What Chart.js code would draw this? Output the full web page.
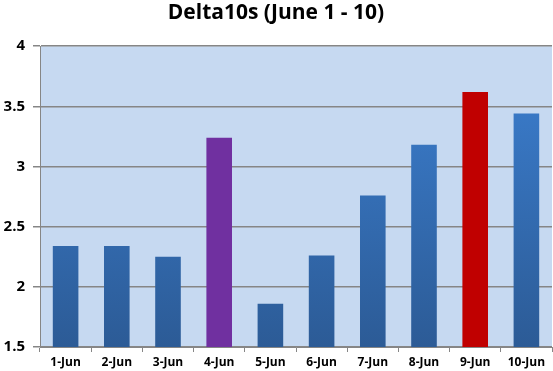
<!DOCTYPE html>
<html>
<head>
<meta charset="utf-8">
<title>Delta10s (June 1 - 10)</title>
<script src="https://cdn.jsdelivr.net/npm/chart.js@4/dist/chart.umd.min.js"></script>
<style>
  html, body { margin: 0; padding: 0; background: #fff; }
  #wrap { width: 553px; height: 371px; }
</style>
</head>
<body>
<div id="wrap"><canvas id="deltaChart"></canvas></div>
<script>
// Chart data
const days = ['1-Jun', '2-Jun', '3-Jun', '4-Jun', '5-Jun', '6-Jun', '7-Jun', '8-Jun', '9-Jun', '10-Jun'];
const delta10s = [2.34, 2.34, 2.25, 3.24, 1.86, 2.26, 2.76, 3.18, 3.62, 3.44];
const yTicks = [1.5, 2, 2.5, 3, 3.5, 4];

// special bars (purple on 4-Jun, red on 9-Jun)
const highlight = { '4-Jun': '#7030A0', '9-Jun': '#C00000' };

// paint plot area background
const plotBg = {
  id: 'plotBg',
  beforeDraw(chart) {
    const { ctx, chartArea: a } = chart;
    ctx.save();
    ctx.fillStyle = '#C6D9F1';
    ctx.fillRect(a.left, a.top, a.right - a.left, a.bottom - a.top);
    ctx.restore();
  }
};

function barFill(context) {
  const chart = context.chart;
  const day = days[context.dataIndex];
  if (highlight[day]) return highlight[day];
  const a = chart.chartArea;
  if (!a) return '#3A78C8';
  const el = context.element;
  const top = el && el.y != null ? el.y : a.top;
  const g = chart.ctx.createLinearGradient(0, top, 0, a.bottom);
  g.addColorStop(0, '#3C80D2');
  g.addColorStop(1, '#2C5B96');
  return g;
}

new Chart(document.getElementById('deltaChart'), {
  type: 'bar',
  data: {
    labels: days,
    datasets: [{
      label: 'Delta10s',
      data: delta10s,
      backgroundColor: barFill,
      borderWidth: 0,
      barPercentage: 0.5,
      categoryPercentage: 1
    }]
  },
  options: {
    responsive: true,
    maintainAspectRatio: false,
    animation: false,
    layout: { padding: { right: 1 } },
    plugins: {
      legend: { display: false },
      tooltip: { enabled: false },
      title: {
        display: true,
        text: 'Delta10s (June 1 - 10)',
        color: '#000',
        font: { family: 'Open Sans', size: 21, weight: 'bold', lineHeight: 1.2 },
        padding: { top: 0, bottom: 21 }
      }
    },
    scales: {
      x: {
        offset: true,
        grid: {
          offset: true,
          drawOnChartArea: false,
          color: '#868686',
          tickLength: 5
        },
        border: { color: '#868686', width: 1 },
        ticks: {
          color: '#000',
          font: { family: 'Open Sans', size: 12, weight: 'bold' },
          maxRotation: 0,
          autoSkip: false,
          padding: 3
        },
        afterFit(scale) { scale.height = 24; }
      },
      y: {
        min: yTicks[0],
        max: yTicks[yTicks.length - 1],
        grid: {
          color: '#868686',
          lineWidth: 1.5,
          tickLength: 7
        },
        border: { color: '#868686', width: 1 },
        ticks: {
          stepSize: 0.5,
          color: '#000',
          padding: 8,
          font: { family: 'Open Sans', size: 15, weight: 'bold' },
          callback: (v) => String(v)
        },
        afterFit(scale) { scale.width = 40; }
      }
    }
  },
  plugins: [plotBg]
});
</script>
</body>
</html>
